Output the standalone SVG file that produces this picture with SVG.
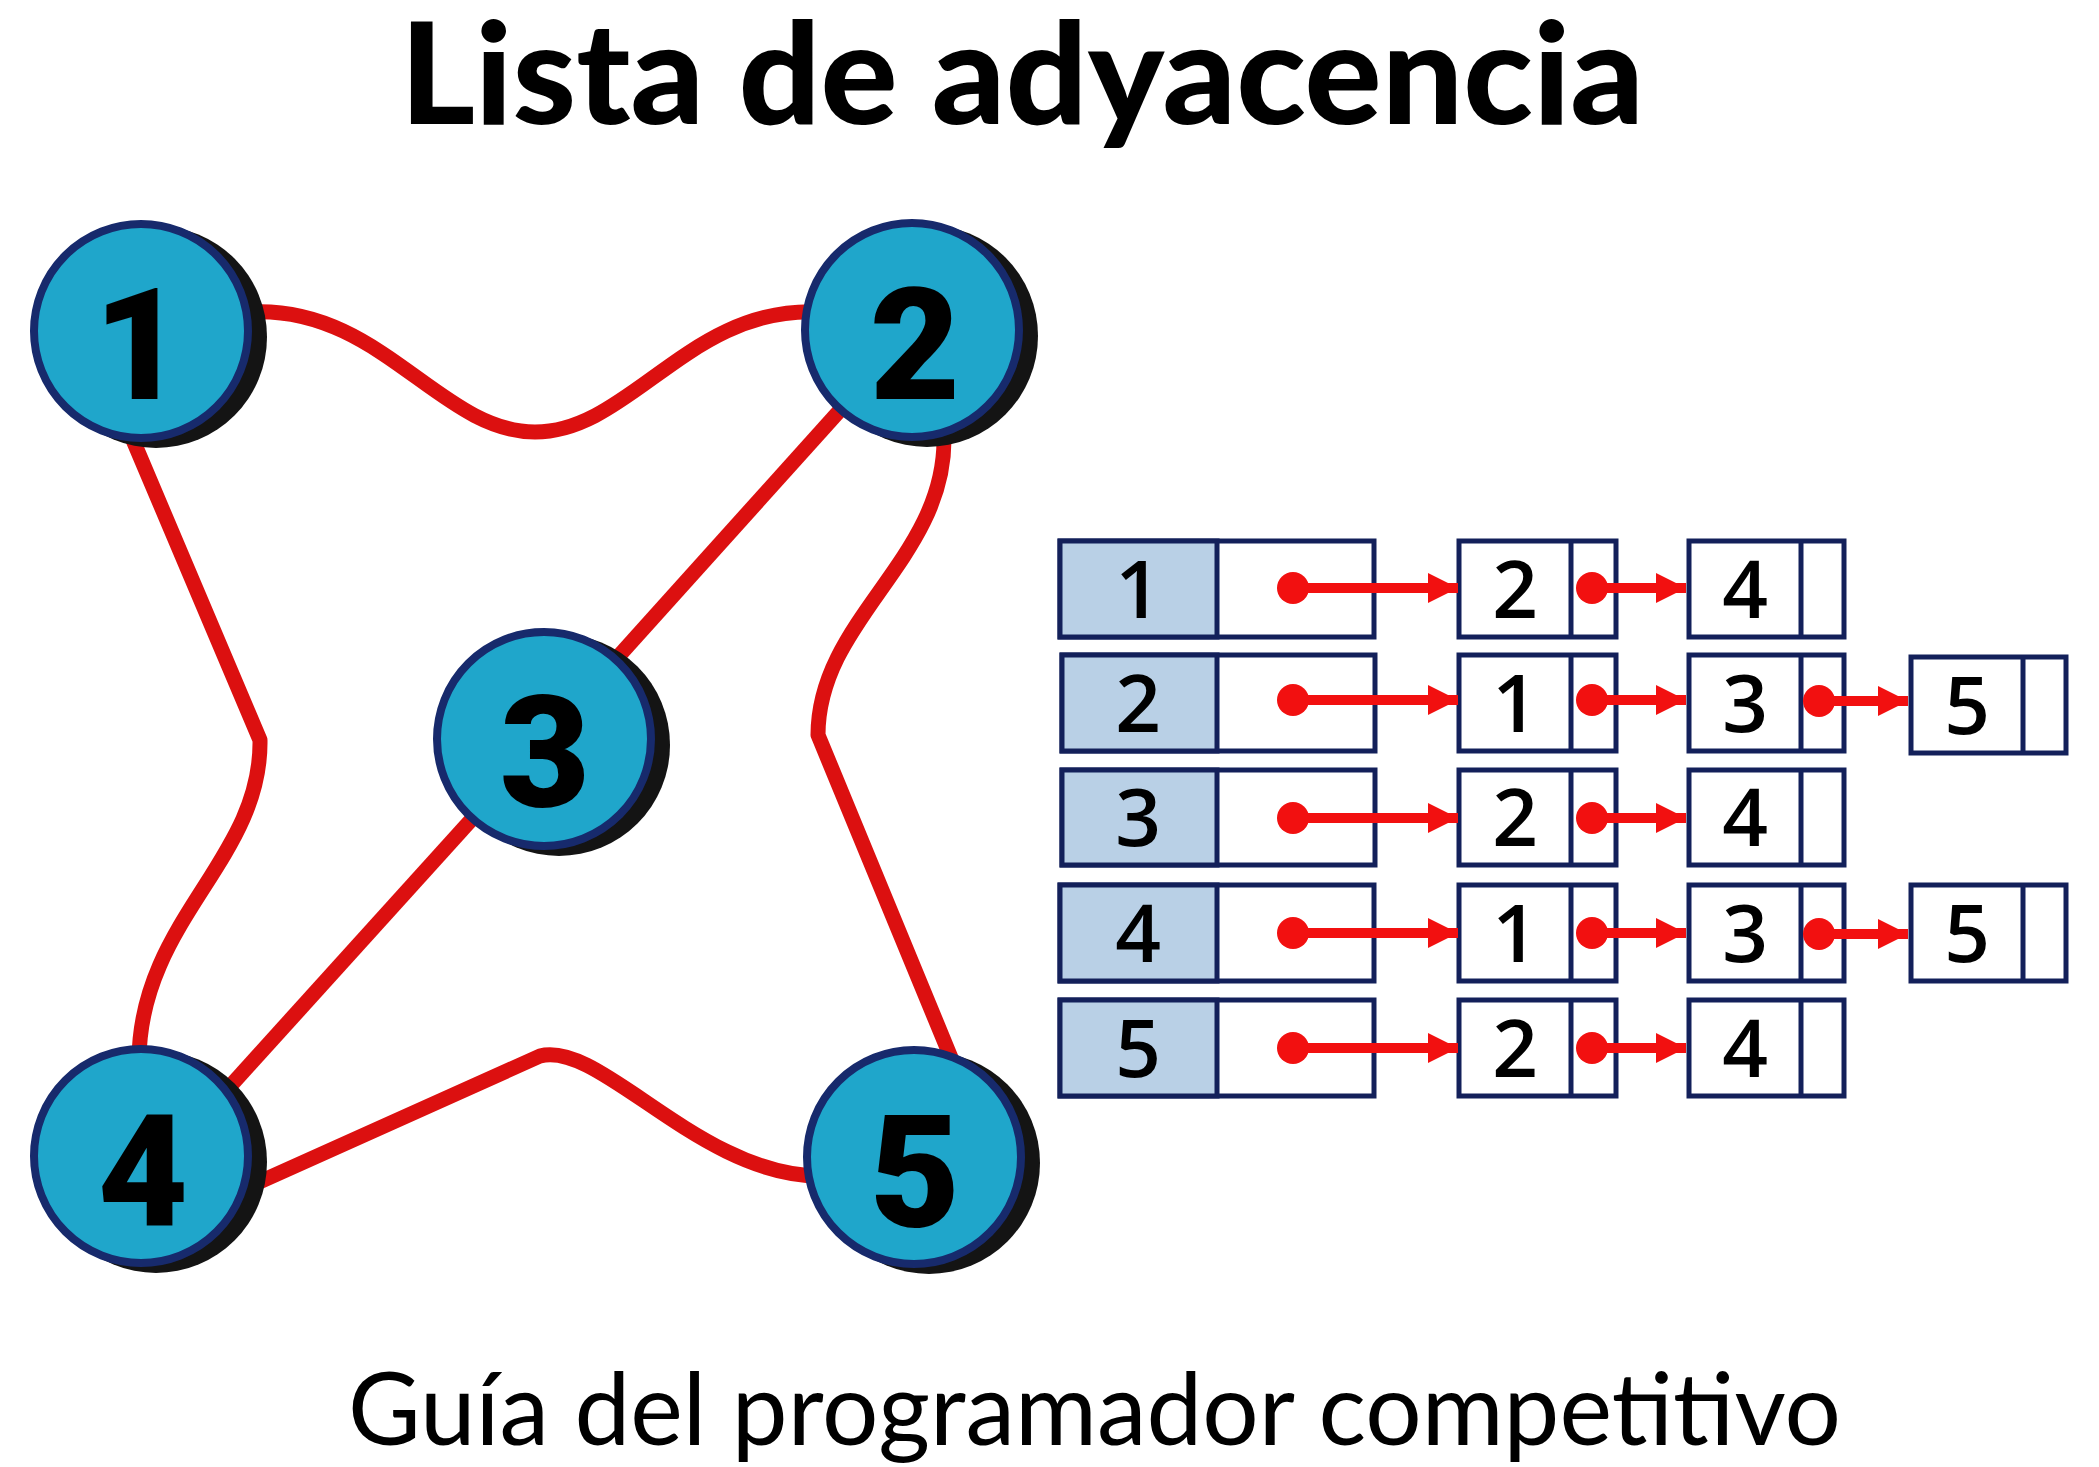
<svg xmlns="http://www.w3.org/2000/svg" width="2099" height="1467" viewBox="0 0 2099 1467">
<defs>
<style>
.edge{fill:none;stroke:#dc1010;stroke-width:15;stroke-linejoin:round;stroke-linecap:butt}
.shadow{fill:#141414}
.node{fill:#1fa6cb;stroke:#172a6c;stroke-width:8}
.nlabel{font-family:Roboto,"Liberation Sans",sans-serif;font-weight:900;font-size:156px;fill:#000;text-anchor:middle}
.cell{fill:#fff;stroke:#13205a;stroke-width:5}
.head{fill:#b9d0e6;stroke:#13205a;stroke-width:5}
.div{stroke:#13205a;stroke-width:5}
.clabel{font-family:"Open Sans","Noto Sans","Liberation Sans",sans-serif;font-weight:600;font-size:80px;fill:#000;text-anchor:middle}
.ptr{stroke:#f21010;stroke-width:10;fill:none}
.dot{fill:#f21010}
.title{font-family:Lato,"Liberation Sans",sans-serif;font-weight:900;font-size:142px;fill:#000}
.sub{font-family:Lato,"Liberation Sans",sans-serif;font-weight:400;font-size:100px;fill:#000}
</style>
<marker id="ah" markerUnits="userSpaceOnUse" markerWidth="30" markerHeight="30" refX="30" refY="15" orient="auto">
<path d="M0,0 L30,15 L0,30 Z" fill="#f21010"/>
</marker>
</defs>
<rect width="2099" height="1467" fill="#fff"/>
<text class="title" x="400" y="124" textLength="1244" lengthAdjust="spacingAndGlyphs">Lista de adyacencia</text>
<g id="connectors">
<path class="edge" d="M 250 312 C 380 305, 440 432, 535 432 C 630 432, 690 305, 820 312"/>
<path class="edge" d="M 133 440 L 260 740 C 262 860, 140 920, 139 1060"/>
<path class="edge" d="M 944 440 C 944 560, 818 620, 818 735 L 952 1060"/>
<path class="edge" d="M 255 1184 L 540 1056 C 600 1040, 700 1176, 820 1176"/>
<path class="edge" d="M 860 388 L 590 688"/>
<path class="edge" d="M 500 788 L 215 1103"/>
</g>
<g id="node1"><circle class="shadow" cx="156" cy="337" r="111"/><circle class="node" cx="141" cy="331" r="107"/><text class="nlabel" x="139" y="399">1</text></g>
<g id="node2"><circle class="shadow" cx="927" cy="336" r="111"/><circle class="node" cx="912" cy="330" r="107"/><text class="nlabel" x="915" y="399">2</text></g>
<g id="node3"><circle class="shadow" cx="559" cy="745" r="111"/><circle class="node" cx="544" cy="739" r="107"/><text class="nlabel" x="545" y="806">3</text></g>
<g id="node4"><circle class="shadow" cx="156" cy="1162" r="111"/><circle class="node" cx="141" cy="1156" r="107"/><text class="nlabel" x="143" y="1226">4</text></g>
<g id="node5"><circle class="shadow" cx="929" cy="1163" r="111"/><circle class="node" cx="914" cy="1157" r="107"/><text class="nlabel" x="915" y="1226">5</text></g>

<g id="list1">
<rect class="cell" x="1060" y="541" width="314" height="96"/><rect class="head" x="1060" y="541" width="157" height="96"/><text class="clabel" x="1138" y="618">1</text>
<rect class="cell" x="1459" y="541" width="157" height="96"/><line class="div" x1="1571" y1="541" x2="1571" y2="637"/><text class="clabel" x="1515" y="618">2</text>
<rect class="cell" x="1689" y="541" width="155" height="96"/><line class="div" x1="1801" y1="541" x2="1801" y2="637"/><text class="clabel" x="1745" y="618">4</text>
<circle class="dot" cx="1293" cy="588" r="16"/><line class="ptr" x1="1293" y1="588" x2="1458" y2="588" marker-end="url(#ah)"/>
<circle class="dot" cx="1592" cy="588" r="16"/><line class="ptr" x1="1592" y1="588" x2="1686" y2="588" marker-end="url(#ah)"/>
</g>
<g id="list2">
<rect class="cell" x="1062" y="655" width="313" height="96"/><rect class="head" x="1062" y="655" width="155" height="96"/><text class="clabel" x="1138" y="732">2</text>
<rect class="cell" x="1459" y="655" width="157" height="96"/><line class="div" x1="1571" y1="655" x2="1571" y2="751"/><text class="clabel" x="1515" y="732">1</text>
<rect class="cell" x="1689" y="655" width="155" height="96"/><line class="div" x1="1801" y1="655" x2="1801" y2="751"/><text class="clabel" x="1745" y="732">3</text>
<rect class="cell" x="1911" y="657" width="155" height="96"/><line class="div" x1="2023" y1="657" x2="2023" y2="753"/><text class="clabel" x="1967" y="734">5</text>
<circle class="dot" cx="1293" cy="700" r="16"/><line class="ptr" x1="1293" y1="700" x2="1458" y2="700" marker-end="url(#ah)"/>
<circle class="dot" cx="1592" cy="700" r="16"/><line class="ptr" x1="1592" y1="700" x2="1686" y2="700" marker-end="url(#ah)"/>
<circle class="dot" cx="1819" cy="701" r="16"/><line class="ptr" x1="1819" y1="701" x2="1908" y2="701" marker-end="url(#ah)"/>
</g>
<g id="list3">
<rect class="cell" x="1062" y="770" width="313" height="95"/><rect class="head" x="1062" y="770" width="155" height="95"/><text class="clabel" x="1138" y="846">3</text>
<rect class="cell" x="1459" y="770" width="157" height="95"/><line class="div" x1="1571" y1="770" x2="1571" y2="865"/><text class="clabel" x="1515" y="846">2</text>
<rect class="cell" x="1689" y="770" width="155" height="95"/><line class="div" x1="1801" y1="770" x2="1801" y2="865"/><text class="clabel" x="1745" y="846">4</text>
<circle class="dot" cx="1293" cy="818" r="16"/><line class="ptr" x1="1293" y1="818" x2="1458" y2="818" marker-end="url(#ah)"/>
<circle class="dot" cx="1592" cy="818" r="16"/><line class="ptr" x1="1592" y1="818" x2="1686" y2="818" marker-end="url(#ah)"/>
</g>
<g id="list4">
<rect class="cell" x="1060" y="885" width="314" height="96"/><rect class="head" x="1060" y="885" width="157" height="96"/><text class="clabel" x="1138" y="962">4</text>
<rect class="cell" x="1459" y="885" width="157" height="96"/><line class="div" x1="1571" y1="885" x2="1571" y2="981"/><text class="clabel" x="1515" y="962">1</text>
<rect class="cell" x="1689" y="885" width="155" height="96"/><line class="div" x1="1801" y1="885" x2="1801" y2="981"/><text class="clabel" x="1745" y="962">3</text>
<rect class="cell" x="1911" y="885" width="155" height="96"/><line class="div" x1="2023" y1="885" x2="2023" y2="981"/><text class="clabel" x="1967" y="962">5</text>
<circle class="dot" cx="1293" cy="933" r="16"/><line class="ptr" x1="1293" y1="933" x2="1458" y2="933" marker-end="url(#ah)"/>
<circle class="dot" cx="1592" cy="933" r="16"/><line class="ptr" x1="1592" y1="933" x2="1686" y2="933" marker-end="url(#ah)"/>
<circle class="dot" cx="1819" cy="934" r="16"/><line class="ptr" x1="1819" y1="934" x2="1908" y2="934" marker-end="url(#ah)"/>
</g>
<g id="list5">
<rect class="cell" x="1060" y="1000" width="314" height="96"/><rect class="head" x="1060" y="1000" width="157" height="96"/><text class="clabel" x="1138" y="1077">5</text>
<rect class="cell" x="1459" y="1000" width="157" height="96"/><line class="div" x1="1571" y1="1000" x2="1571" y2="1096"/><text class="clabel" x="1515" y="1077">2</text>
<rect class="cell" x="1689" y="1000" width="155" height="96"/><line class="div" x1="1801" y1="1000" x2="1801" y2="1096"/><text class="clabel" x="1745" y="1077">4</text>
<circle class="dot" cx="1293" cy="1048" r="16"/><line class="ptr" x1="1293" y1="1048" x2="1458" y2="1048" marker-end="url(#ah)"/>
<circle class="dot" cx="1592" cy="1048" r="16"/><line class="ptr" x1="1592" y1="1048" x2="1686" y2="1048" marker-end="url(#ah)"/>
</g>
<text class="sub" x="348" y="1445" textLength="1493" lengthAdjust="spacingAndGlyphs">Guía del programador competitivo</text>
</svg>
